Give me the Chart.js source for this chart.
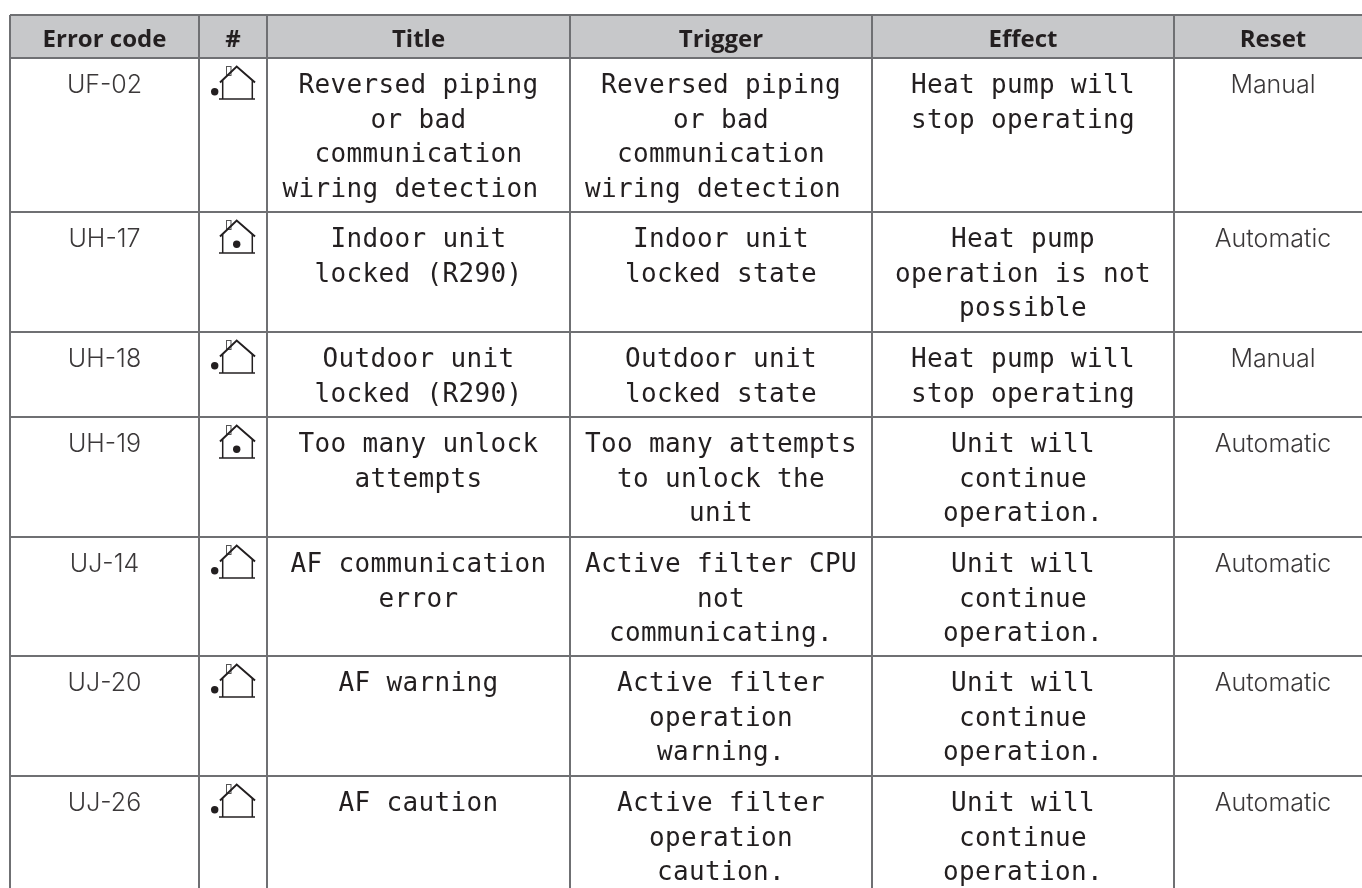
<!DOCTYPE html>
<html>
<head>
<meta charset="utf-8">
<title>Error codes</title>
<script src="https://cdn.jsdelivr.net/npm/chart.js@4/dist/chart.umd.min.js"></script>
<style>
  html, body { margin: 0; background: #fff; }
  canvas { display: block; }
</style>
</head>
<body>
<canvas id="errorTable" width="1362" height="888"></canvas>
<script>
// table content
const headers = ['Error code', '#', 'Title', 'Trigger', 'Effect', 'Reset'];
const errorCodes = ['UF-02', 'UH-17', 'UH-18', 'UH-19', 'UJ-14', 'UJ-20', 'UJ-26'];
const unitIcons = ['outdoor', 'indoor', 'outdoor', 'indoor', 'outdoor', 'outdoor', 'outdoor'];
const titles = [
  ['Reversed piping', 'or bad', 'communication', 'wiring detection '],
  ['Indoor unit', 'locked (R290)'],
  ['Outdoor unit', 'locked (R290)'],
  ['Too many unlock', 'attempts'],
  ['AF communication', 'error'],
  ['AF warning'],
  ['AF caution']
];
const triggers = [
  ['Reversed piping', 'or bad', 'communication', 'wiring detection '],
  ['Indoor unit', 'locked state'],
  ['Outdoor unit', 'locked state'],
  ['Too many attempts', 'to unlock the', 'unit'],
  ['Active filter CPU', 'not', 'communicating.'],
  ['Active filter', 'operation', 'warning.'],
  ['Active filter', 'operation', 'caution.']
];
const effects = [
  ['Heat pump will', 'stop operating'],
  ['Heat pump', 'operation is not', 'possible'],
  ['Heat pump will', 'stop operating'],
  ['Unit will', 'continue', 'operation.'],
  ['Unit will', 'continue', 'operation.'],
  ['Unit will', 'continue', 'operation.'],
  ['Unit will', 'continue', 'operation.']
];
const resets = ['Manual', 'Automatic', 'Manual', 'Automatic', 'Automatic', 'Automatic', 'Automatic'];

// the grid, in canvas units
const columnEdges = [10, 199, 267, 570, 872, 1174];
const rowEdges = [15, 58, 212, 332, 417, 537, 656, 776];
const tableRight = 1362;
const tableBottom = 888;
const lastColumnCenter = 1273; // last column runs off the page

const ink = '#231f20';
const lineGray = '#6f7073';
const monoFont = '26px "DejaVu Sans Mono", monospace';
const lightFont = '300 25px Inter, sans-serif';
const headFont = '700 24px "Open Sans", sans-serif';

// ---------- house symbols ----------
function makeHouse(kind) {
  const c = document.createElement('canvas');
  c.width = 50; c.height = 40;
  const g = c.getContext('2d');
  g.strokeStyle = ink; g.fillStyle = ink;
  // chimney
  g.lineWidth = 1;
  g.strokeStyle = '#555';
  g.strokeRect(16.5, 3.5, 4.5, 9);
  g.strokeStyle = ink;
  // roof
  g.lineWidth = 2;
  g.beginPath();
  g.moveTo(10, 19.5); g.lineTo(26.7, 3.5); g.lineTo(45, 19.5);
  g.stroke();
  // walls + floor
  g.lineWidth = 1.5;
  g.beginPath();
  g.moveTo(12.7, 17.5); g.lineTo(12.7, 36);
  g.moveTo(42.3, 17.5); g.lineTo(42.3, 36);
  g.stroke();
  g.beginPath();
  g.moveTo(9, 36); g.lineTo(45, 36);
  g.stroke();
  // dot
  g.beginPath();
  if (kind === 'indoor') g.arc(26.7, 27.3, 3.7, 0, Math.PI * 2);
  else g.arc(4.7, 28.7, 3.7, 0, Math.PI * 2);
  g.fill();
  return c;
}
const houses = { outdoor: makeHouse('outdoor'), indoor: makeHouse('indoor') };

// ---------- text and header band ----------
const tablePlugin = {
  id: 'tablePlugin',
  beforeDraw(chart) {
    const { ctx, scales: { x, y } } = chart;
    ctx.save();
    ctx.fillStyle = '#c7c8ca';
    ctx.fillRect(x.getPixelForValue(columnEdges[0]), y.getPixelForValue(rowEdges[0]),
      x.getPixelForValue(tableRight) - x.getPixelForValue(columnEdges[0]),
      y.getPixelForValue(rowEdges[1]) - y.getPixelForValue(rowEdges[0]));
    ctx.restore();
  },
  afterDraw(chart) {
    const { ctx, scales: { x, y } } = chart;
    const center = (col) => {
      if (col === columnEdges.length - 1) return x.getPixelForValue(lastColumnCenter);
      return x.getPixelForValue((columnEdges[col] + columnEdges[col + 1]) / 2);
    };
    const put = (lines, col, row, font, spacing) => {
      ctx.font = font;
      ctx.letterSpacing = spacing;
      lines.forEach((line, k) => {
        ctx.fillText(line, center(col), y.getPixelForValue(rowEdges[row + 1] + 35 + k * 34.7));
      });
    };
    ctx.save();
    ctx.textAlign = 'center';
    ctx.textBaseline = 'alphabetic';
    ctx.fillStyle = ink;
    ctx.font = headFont;
    headers.forEach((h, col) => ctx.fillText(h, center(col), y.getPixelForValue(rowEdges[0] + 31.5)));
    errorCodes.forEach((code, row) => {
      ctx.fillStyle = '#3b3839';
      put([code], 0, row, lightFont, '0px');
      put([resets[row]], 5, row, lightFont, '0px');
      ctx.fillStyle = ink;
      put(titles[row], 2, row, monoFont, '0.35px');
      put(triggers[row], 3, row, monoFont, '0.35px');
      put(effects[row], 4, row, monoFont, '0.35px');
    });
    ctx.restore();
  }
};

new Chart(document.getElementById('errorTable'), {
  type: 'scatter',
  data: {
    datasets: [{
      label: '#',
      data: unitIcons.map((kind, i) => ({ x: 235, y: rowEdges[i + 1] + 25 })),
      pointStyle: unitIcons.map(kind => houses[kind]),
      pointRadius: 25,
      showLine: false
    }]
  },
  options: {
    responsive: false,
    animation: false,
    layout: { autoPadding: false, padding: { left: columnEdges[0], top: rowEdges[0], right: 0, bottom: 0 } },
    plugins: { legend: { display: false }, tooltip: { enabled: false } },
    events: [],
    scales: {
      x: {
        type: 'linear',
        min: columnEdges[0],
        max: tableRight,
        afterBuildTicks: (axis) => { axis.ticks = columnEdges.map(v => ({ value: v })); },
        ticks: { display: false, autoSkip: false },
        border: { display: false },
        grid: { color: lineGray, lineWidth: 2, drawTicks: false }
      },
      y: {
        type: 'linear',
        reverse: true,
        min: rowEdges[0],
        max: tableBottom,
        afterBuildTicks: (axis) => { axis.ticks = rowEdges.map(v => ({ value: v })); },
        ticks: { display: false, autoSkip: false },
        border: { display: false },
        grid: { color: lineGray, lineWidth: 2, drawTicks: false }
      }
    }
  },
  plugins: [tablePlugin]
});
</script>
</body>
</html>
